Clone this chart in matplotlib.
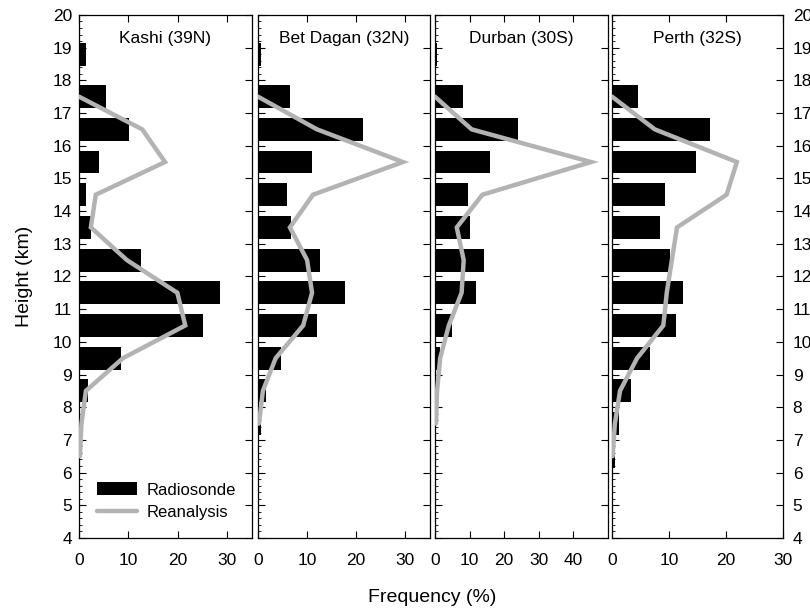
import numpy as np
import matplotlib
matplotlib.use("Agg")
import matplotlib.pyplot as plt
from matplotlib.ticker import MultipleLocator

plt.rcParams['font.family'] = ['Liberation Sans', 'DejaVu Sans']

# bar centres (km) for radiosonde frequencies, bottom to top
bar_heights = [5.5, 6.5, 7.5, 8.5, 9.5, 10.5, 11.5, 12.5, 13.5, 14.5, 15.5, 16.5, 17.5, 18.8]
# reanalysis profile levels (km)
line_heights = [6.5, 7.5, 8.5, 9.5, 10.5, 11.5, 12.5, 13.5, 14.5, 15.5, 16.5, 17.5]

stations = ["Kashi (39N)", "Bet Dagan (32N)", "Durban (30S)", "Perth (32S)"]

kashi_bar = [0, 0, 0, 1.8, 8.5, 25.0, 28.6, 12.6, 2.4, 1.4, 4.0, 10.2, 5.5, 1.4]
betdagan_bar = [0.1, 0.2, 0.6, 1.6, 4.7, 12.0, 17.7, 12.6, 6.7, 5.9, 11.0, 21.3, 6.5, 0.7]
durban_bar = [0, 0, 0.3, 0.5, 1.5, 5.0, 12.0, 14.3, 10.0, 9.5, 16.0, 24.0, 8.0, 0.5]
perth_bar = [0.2, 0.5, 1.2, 3.3, 6.7, 11.2, 12.4, 10.2, 8.4, 9.3, 14.7, 17.2, 4.5, 0]

kashi_line = [0.2, 0.5, 1.4, 8.9, 21.5, 19.9, 9.7, 2.4, 3.4, 17.4, 12.8, 0]
betdagan_line = [np.nan, 0.2, 1.0, 3.6, 9.2, 11.0, 10.0, 6.5, 11.2, 29.5, 12.0, 0]
durban_line = [np.nan, 0.3, 0.6, 1.5, 4.0, 7.7, 8.3, 6.3, 13.7, 45.1, 10.6, 0]
perth_line = [0.1, 0.5, 1.4, 4.4, 9.0, 9.6, 10.5, 11.4, 20.1, 21.9, 7.5, 0]

bars = [kashi_bar, betdagan_bar, durban_bar, perth_bar]
lines = [kashi_line, betdagan_line, durban_line, perth_line]
xmax = [35, 35, 50, 30]
xticks = [[0, 10, 20, 30], [0, 10, 20, 30], [0, 10, 20, 30, 40], [0, 10, 20, 30]]

fig = plt.figure(figsize=(8.1, 6.12), dpi=100)
lefts = [0.0975, 0.3185, 0.537, 0.7556]
widths = [0.2136, 0.2123, 0.2136, 0.2111]
bottom, height = 0.121, 0.8546

for i in range(4):
    ax = fig.add_axes([lefts[i], bottom, widths[i], height])
    b = ax.barh(bar_heights, bars[i], height=0.7, color='black', zorder=2)
    l, = ax.plot(lines[i], line_heights, color='#b3b3b3', lw=3.2,
                 solid_capstyle='round', solid_joinstyle='miter', zorder=3)
    ax.set_xlim(0, xmax[i])
    ax.set_ylim(4, 20)
    ax.set_xticks(xticks[i])
    ax.yaxis.set_major_locator(MultipleLocator(1))
    ax.yaxis.set_minor_locator(MultipleLocator(0.2))
    ax.tick_params(axis='both', which='major', direction='in', length=5,
                   width=0.8, labelsize=12.5, top=True, right=True)
    ax.tick_params(axis='y', which='minor', direction='in', length=2.5,
                   width=0.6, left=True, right=False)
    ax.tick_params(axis='x', pad=11)
    for sp in ax.spines.values():
        sp.set_linewidth(0.9)
    if i == 0:
        ax.tick_params(axis='y', labelleft=True, labelright=False, pad=5)
        ax.set_ylabel("Height (km)", fontsize=14, labelpad=14)
        ax.legend([b, l], ['Radiosonde', 'Reanalysis'], loc='lower left',
                  bbox_to_anchor=(0.02, 0.005), frameon=False,
                  fontsize=12, handlelength=2.4, handleheight=0.8,
                  labelspacing=0.45, handletextpad=0.55)
    elif i == 3:
        ax.tick_params(axis='y', labelleft=False, labelright=True, pad=7)
    else:
        ax.tick_params(axis='y', labelleft=False)
    ax.text(0.5, 0.955, stations[i], transform=ax.transAxes, ha='center',
            va='center', fontsize=12.5)

fig.text(0.533, 0.024, "Frequency (%)", ha='center', va='center', fontsize=14)
fig.savefig("out.png", dpi=100)
